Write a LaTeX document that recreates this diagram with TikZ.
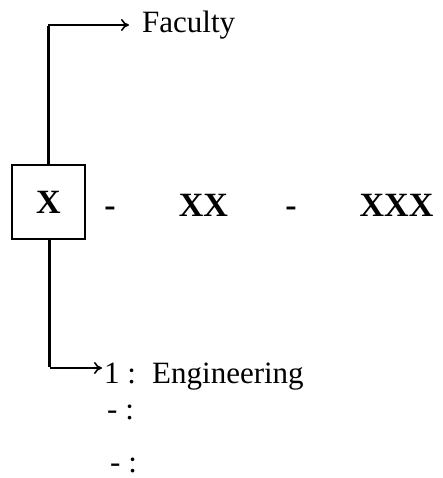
\documentclass[tikz,border=0pt]{standalone}
\usepackage{fontspec}
\setmainfont{Liberation Serif}
\usetikzlibrary{arrows.meta}
\begin{document}
\begin{tikzpicture}[x=1pt,y=-1pt,
  lbl/.style={inner sep=0pt,font=\fontsize{31}{36}\selectfont},
  code/.style={inner sep=0pt,font=\fontsize{34}{38}\selectfont\bfseries},
  vline/.style={line width=3pt},
  hline/.style={line width=1.6pt,-{To[length=8pt,width=12pt,line width=1.6pt]}}]
\useasboundingbox (0,0) rectangle (442,478);
\node[draw,line width=2.4pt,minimum width=73pt,minimum height=74pt,code] (box) at (48.5,202) {X};
\node[code,anchor=base] (d1) at (110,216) {-};
\node[code,anchor=base] (xx) at (203.5,216) {XX};
\node[code,anchor=base] (d2) at (291,216) {-};
\node[code,anchor=base] (xxx) at (396.5,216) {XXX};
\node[lbl,anchor=base west] (fac) at (142,33) {Faculty};
\node[lbl,anchor=base west] (one) at (104,383) {1 :};
\node[lbl,anchor=base west] (eng) at (152,383) {Engineering};
\node[lbl,anchor=base west] (r2) at (107,419) {- :};
\node[lbl,anchor=base west] (r3) at (110,472) {- :};
\coordinate (tc) at (48,25);
\coordinate (bc) at (49.5,368);
\draw[vline] (box.north -| tc) -- ([yshift=-0.8pt]tc);
\draw[hline] (tc) -- ([xshift=-13pt]fac.west |- tc);
\draw[vline] (box.south -| bc) -- ([yshift=0.8pt]bc);
\draw[hline] (bc) -- ([xshift=-2pt]one.west |- bc);
\end{tikzpicture}
\end{document}
